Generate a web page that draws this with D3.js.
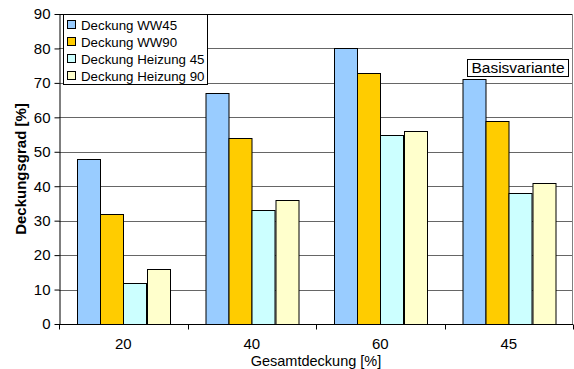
<!DOCTYPE html>
<html>
<head>
<meta charset="utf-8">
<script src="https://cdn.jsdelivr.net/npm/d3@7"></script>
<style>
  body { margin: 0; background: #fff; }
  svg { font-family: 'Liberation Sans', Arial, sans-serif; }
</style>
</head>
<body>
<svg id="chart" width="574" height="369"></svg>
<script>
const categories = ['20', '40', '60', '45'];
const series_names = ['Deckung WW45', 'Deckung WW90', 'Deckung Heizung 45', 'Deckung Heizung 90'];
const series_colors = ['#99ccff', '#ffcc00', '#ccffff', '#ffffcc'];
const ww45 = [48, 67, 80, 71];
const ww90 = [32, 54, 73, 59];
const heizung45 = [12, 33, 55, 38];
const heizung90 = [16, 36, 56, 41];
const y_ticks = [0, 10, 20, 30, 40, 50, 60, 70, 80, 90];

const series = [ww45, ww90, heizung45, heizung90];

const svg = d3.select('svg#chart'),
  margin = { top: 14, right: 1, bottom: 45, left: 59 },
  width = +svg.attr('width') - margin.left - margin.right,
  height = +svg.attr('height') - margin.top - margin.bottom;

const x = d3.scaleBand()
  .domain(categories)
  .range([0, width])
  .paddingInner(0)
  .paddingOuter(0);

// gap width 150% like Excel: 4 bars + 1.5 bar width per category
const bar_w = x.bandwidth() / 5.5;
const x_inner = d3.scaleBand()
  .domain(d3.range(series.length))
  .range([bar_w * 0.75, bar_w * 4.75]);

const y = d3.scaleLinear()
  .domain([0, 90])
  .range([height, 0]);

const g = svg.append('g')
  .attr('transform', `translate(${margin.left},${margin.top})`);

// gridlines
g.append('g')
  .selectAll('line')
  .data(y_ticks.filter(d => d > 0))
  .enter()
  .append('line')
  .attr('x1', 0)
  .attr('x2', width)
  .attr('y1', d => Math.round(y(d)) + 0.5)
  .attr('y2', d => Math.round(y(d)) + 0.5)
  .attr('stroke', d => (d === 90 ? '#000' : '#666'))
  .attr('stroke-width', 1);

// plot area border (right side)
g.append('line')
  .attr('x1', width - 0.5).attr('x2', width - 0.5)
  .attr('y1', 0).attr('y2', height)
  .attr('stroke', '#808080');

// bars
const groups = g.append('g')
  .selectAll('g')
  .data(categories)
  .enter()
  .append('g')
  .attr('transform', d => `translate(${x(d)},0)`);

groups.selectAll('rect')
  .data((d, i) => series.map((s, k) => ({ k, v: s[i] })))
  .enter()
  .append('rect')
  .attr('x', d => Math.round(x_inner(d.k)) + 0.5)
  .attr('width', Math.round(x_inner.bandwidth()))
  .attr('y', d => Math.round(y(d.v)) + 0.5)
  .attr('height', d => Math.round(height) - Math.round(y(d.v)))
  .attr('fill', d => series_colors[d.k])
  .attr('stroke', '#000')
  .attr('stroke-width', 1);

// y axis
const y_axis = g.append('g')
  .attr('transform', 'translate(0.5,0)')
  .call(d3.axisLeft(y).tickValues(y_ticks).tickSize(5).tickPadding(4).tickSizeOuter(0));
y_axis.select('.domain').attr('stroke', '#000');
y_axis.selectAll('.tick line').attr('stroke', '#000');
y_axis.selectAll('text')
  .style('font-size', '15px')
  .attr('fill', '#000');

// x axis
const x_axis = g.append('g')
  .attr('transform', `translate(0,${Math.round(height) + 0.5})`)
  .call(d3.axisBottom(x).tickSize(0).tickPadding(14));
x_axis.select('.domain').attr('stroke', '#000').attr('d', `M0,0H${width}`);
x_axis.selectAll('text')
  .style('font-size', '15px')
  .attr('fill', '#000');

// category separator ticks
x_axis.append('g')
  .selectAll('line')
  .data(d3.range(categories.length + 1))
  .enter()
  .append('line')
  .attr('x1', i => Math.round(i * x.step()) + 0.5)
  .attr('x2', i => Math.round(i * x.step()) + 0.5)
  .attr('y1', 0)
  .attr('y2', 5)
  .attr('stroke', '#000');

// axis titles
svg.append('text')
  .attr('transform', `translate(26,${margin.top + height / 2}) rotate(-90)`)
  .attr('text-anchor', 'middle')
  .style('font-size', '15px')
  .style('font-weight', 'bold')
  .text('Deckungsgrad [%]');

svg.append('text')
  .attr('x', margin.left + width / 2)
  .attr('y', 366)
  .attr('text-anchor', 'middle')
  .style('font-size', '14.5px')
  .text('Gesamtdeckung [%]');

// legend
const lgd = svg.append('g')
  .attr('transform', 'translate(63.5,14.5)');
lgd.append('rect')
  .attr('width', 144)
  .attr('height', 70)
  .attr('fill', '#fff')
  .attr('stroke', '#000');

const items = lgd.selectAll('.legend')
  .data(series_names)
  .enter()
  .append('g')
  .attr('class', 'legend')
  .attr('transform', (d, i) => `translate(4,${3 + i * 17})`);

items.append('rect')
  .attr('width', 8)
  .attr('height', 8)
  .attr('y', 3)
  .attr('fill', (d, i) => series_colors[i])
  .attr('stroke', '#000');

items.append('text')
  .attr('x', 13.5)
  .attr('y', 12)
  .style('font-size', '13.3px')
  .text(d => d);

// Basisvariante label
const note = svg.append('g')
  .attr('transform', 'translate(467.5,59.5)');
note.append('rect')
  .attr('width', 101)
  .attr('height', 17)
  .attr('fill', '#fff')
  .attr('stroke', '#000');
note.append('text')
  .attr('x', 50.5)
  .attr('y', 13)
  .attr('text-anchor', 'middle')
  .style('font-size', '15.5px')
  .text('Basisvariante');
</script>
</body>
</html>
